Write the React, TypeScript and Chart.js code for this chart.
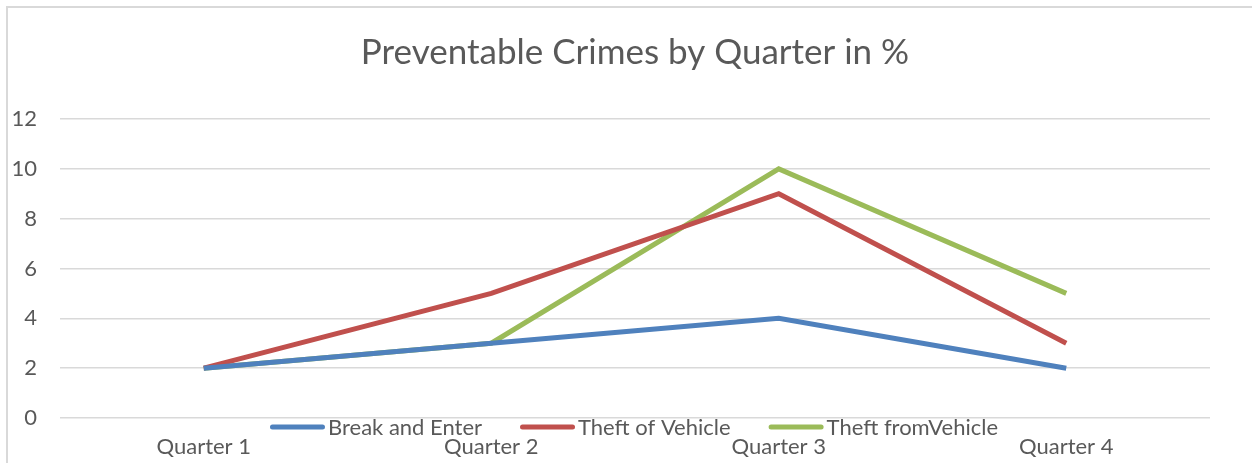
import React, { useEffect, useRef } from "react";
import { Chart, registerables } from "chart.js";

Chart.register(...registerables);

const categories = ["Quarter 1", "Quarter 2", "Quarter 3", "Quarter 4"];
const breakAndEnter = [2, 3, 4, 2];
const theftOfVehicle = [2, 5, 9, 3];
const theftFromVehicle = [2, 3, 10, 5];
const seriesLabels = ["Break and Enter", "Theft of Vehicle", "Theft fromVehicle"];
const seriesColors = ["#4F81BD", "#C0504D", "#9BBB59"];
const titleText = "Preventable Crimes by Quarter in %";

const FONT = "Lato, 'Noto Sans', sans-serif";
const TEXT = "#595959";
const TICK_SIZE = 22;

const borderPlugin = {
  id: "frameBorder",
  beforeDraw(chart: any) {
    const ctx = chart.ctx;
    ctx.save();
    ctx.fillStyle = "#ffffff";
    ctx.fillRect(0, 0, chart.width, chart.height);
    ctx.strokeStyle = "#D9D9D9";
    ctx.lineWidth = 2;
    ctx.strokeRect(7, 7, 3000, 3000);
    ctx.restore();
  },
};

const legendPlugin = {
  id: "inlineLegend",
  afterDraw(chart: any) {
    const ctx = chart.ctx;
    const lineLen = 55;
    const textGap = 3;
    const itemGap = 38;
    const y = 427;
    ctx.save();
    ctx.font = `${TICK_SIZE}px ${FONT}`;
    const items = chart.data.datasets.map((ds: any) => ({
      label: ds.label,
      color: ds.borderColor,
      w: ctx.measureText(ds.label).width,
    }));
    const total =
      items.reduce((s: number, it: any) => s + lineLen + textGap + it.w, 0) +
      itemGap * (items.length - 1);
    let x = 634 - total / 2;
    items.forEach((it: any) => {
      ctx.strokeStyle = it.color;
      ctx.lineWidth = 5;
      ctx.lineCap = "round";
      ctx.beginPath();
      ctx.moveTo(x + 2.5, y);
      ctx.lineTo(x + lineLen - 2.5, y);
      ctx.stroke();
      ctx.fillStyle = TEXT;
      ctx.textAlign = "left";
      ctx.textBaseline = "middle";
      ctx.fillText(it.label, x + lineLen + textGap, y + 1);
      x += lineLen + textGap + it.w + itemGap;
    });
    ctx.restore();
  },
};

export default function App() {
  const ref = useRef<HTMLCanvasElement | null>(null);
  useEffect(() => {
    if (!ref.current) return;
    const values = [breakAndEnter, theftOfVehicle, theftFromVehicle];
    const chart = new Chart(ref.current, {
      type: "line",
      data: {
        labels: categories,
        datasets: values.map((v, i) => ({
          label: seriesLabels[i],
          data: v,
          borderColor: seriesColors[i],
          backgroundColor: seriesColors[i],
          borderWidth: 5,
          pointRadius: 0,
          pointHoverRadius: 0,
          tension: 0,
          fill: false,
        })),
      },
      options: {
        responsive: false,
        animation: false,
        layout: { padding: { left: 0, right: 42, top: 0, bottom: 0 } },
        plugins: {
          legend: { display: false },
          tooltip: { enabled: false },
          title: {
            display: true,
            fullSize: false,
            text: titleText,
            color: TEXT,
            font: { family: FONT, size: 35, weight: "normal" },
            padding: { top: 32, bottom: 45 },
          },
        },
        scales: {
          x: {
            offset: true,
            grid: { display: false, drawTicks: false },
            border: { display: false },
            ticks: { color: TEXT, font: { family: FONT, size: TICK_SIZE }, padding: 16, maxRotation: 0 },
            afterFit(scale: any) {
              scale.height = 45;
            },
          },
          y: {
            min: 0,
            max: 12,
            ticks: { stepSize: 2, color: TEXT, font: { family: FONT, size: TICK_SIZE }, padding: 23 },
            grid: { color: "#D9D9D9", lineWidth: 1.5, drawTicks: false },
            border: { display: false },
            afterFit(scale: any) {
              scale.width = 60;
            },
          },
        },
      },
      plugins: [borderPlugin, legendPlugin],
    });
    return () => chart.destroy();
  }, []);
  return (
    <div style={{ position: "fixed", left: 0, top: 0, width: 1252, height: 463, background: "#fff" }}>
      <canvas ref={ref} width={1252} height={463} style={{ width: 1252, height: 463, display: "block" }} />
    </div>
  );
}
